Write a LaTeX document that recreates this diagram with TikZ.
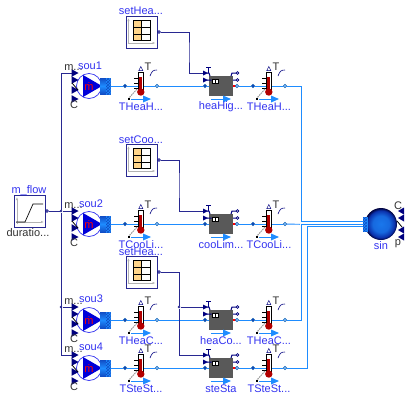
\documentclass[tikz,border=0pt]{standalone}
\usepackage{fontspec}
\setmainfont{Liberation Sans}
\usetikzlibrary{arrows.meta,backgrounds,patterns}
\definecolor{fluidblue}{RGB}{30,140,255}
\definecolor{wirenavy}{RGB}{40,40,145}
\definecolor{portnavy}{RGB}{0,0,127}
\definecolor{labelblue}{RGB}{50,50,240}
\definecolor{tableorange}{RGB}{255,213,138}
\pgfdeclareradialshading{sinkball}{\pgfpoint{0bp}{0bp}}{%
  color(0bp)=(fluidblue!85!portnavy); color(13bp)=(fluidblue!75!portnavy);
  color(21bp)=(fluidblue!35!portnavy); color(25bp)=(black!55!portnavy); color(50bp)=(black!55!portnavy)}

\begin{document}
\begin{tikzpicture}[x=1pt, y=-1pt, >=Latex, font=\fontsize{11}{13}\selectfont,
  fluid/.style={draw=fluidblue, line width=0.9pt},
  ctrl/.style={draw=wirenavy, line width=0.9pt},
  namelab/.style={text=labelblue, inner sep=0pt},
  taglab/.style={text=black!80, inner sep=0pt},
  fport/.style={circle, draw=fluidblue!70!black, fill=portnavy!55!fluidblue, inner sep=0pt, minimum size=3.4pt, line width=0.5pt},
  bport/.style={fport, fill=fluidblue!55!white},
  yport/.style={circle, draw=portnavy, fill=white, inner sep=0pt, minimum size=2.8pt, line width=0.6pt},
  dotj/.style={circle, fill=wirenavy, inner sep=0pt, minimum size=2.6pt},
  hatch/.style={draw=fluidblue, fill=fluidblue, postaction={pattern=crosshatch, pattern color=portnavy!45!fluidblue}},
  inport/.pic={\fill[portnavy] (-3.5,-3.8) -- (3.5,0) -- (-3.5,3.8) -- cycle;},
  sourcepic/.pic={
    \fill[white] (0,0) circle (12.5);
    \draw[labelblue, line width=0.7pt] (0,0) circle (12.5);
    \fill[blue!85!black] (-6,-11) -- (13,0) -- (-6,11) -- cycle;
    \shade[top color=portnavy!45!fluidblue, bottom color=portnavy!45!fluidblue, middle color=fluidblue] (11,-8) rectangle (18,8);
    \path[hatch] (17,-8) rectangle (21.5,8);
    \node[text=red, inner sep=0pt] (-mdot) at (0,0.5) {\.m};
    \coordinate (-b) at (21.5,0);
    \coordinate (-m) at (-17,-13);
    \pic at (-14,-13) {inport};
    \pic at (-14,-6) {inport};
    \pic at (-14,4) {inport};
    \pic at (-14,13) {inport};
    \draw[black, line width=0.8pt] (-17,-3) -- (-11,4);
    \node[taglab] (-mlab) at (-15.5,-18) {m...};
    \node[taglab] (-clab) at (-15,19) {C};
  },
  sensorpic/.pic={
    \draw[black, line width=0.7pt] (-7,-8) -- (-2,-8) (-7,-3) -- (-2,-3) (-7,2) -- (-2,2);
    \draw[black, fill=white, line width=0.6pt] (-2.4,6) -- (-2.4,-14) -- (2,-14) -- (2,6);
    \fill[red!70!black] (-1.8,-9) rectangle (1.4,6);
    \fill[red!70!black] (-0.2,6) circle (3.7);
    \draw[portnavy, line width=0.5pt] (-0.2,-19.5) -- (1.8,-15.5) -- (-2.2,-15.5) -- cycle;
    \node[taglab] (-tlab) at (7,-19) {T};
    \draw[portnavy, line width=0.6pt] (9,-10) .. controls (11,-15) and (12,-16) .. (16,-16);
    \draw[black!40, line width=1pt, dash pattern=on 1.6pt off 0.8pt] (-4,3) -- (-12,12);
    \fill[black] (-13.5,11.5) rectangle (-11,13.5);
    \draw[fluidblue, line width=0.7pt] (-10,13) -- (5,13);
    \fill[fluidblue] (2,9.5) -- (10,13) -- (2,16.5) -- cycle;
    \node[bport] (-b) at (16,0) {};
    \node[fport] (-a) at (-16,0) {};
  },
  checkpic/.pic={
    \fill[black!65] (-12,-10) rectangle (12,10);
    \fill[red] (12,-1) rectangle (15,1);
    \draw[black, fill=white, line width=0.5pt] (-9,-6.8) rectangle (-3,-3);
    \draw[black, line width=0.5pt] (-6,-6.8) -- (-6,-3);
    \draw[portnavy, line width=1pt] (-14,-13) -- (-12,-13) -- (-11,-10) (-14,-6) -- (-9.5,-6);
    \draw[portnavy, line width=1pt] (-15,-18.5) -- (-10,-18.5) (-12.5,-18.5) -- (-12.5,-13);
    \fill[portnavy] (-18,-15.5) -- (-13,-13) -- (-18,-10.5) -- cycle;
    \fill[portnavy] (-18,-8.5) -- (-13,-6) -- (-18,-3.5) -- cycle;
    \draw[portnavy, line width=1pt] (10,-10) -- (11,-13) -- (15,-13) (12,-6) -- (15,-6);
    \node[yport] (-y1) at (16.5,-13) {};
    \node[yport] (-y2) at (16.5,-6) {};
    \coordinate (-u) at (-18,-13);
    \draw[fluidblue, line width=0.7pt] (-10,13) -- (5,13);
    \fill[fluidblue] (2,9.5) -- (10,13) -- (2,16.5) -- cycle;
    \node[bport] (-b) at (16,0) {};
    \node[fport] (-a) at (-16,0) {};
  },
  tablepic/.pic={
    \draw[wirenavy, fill=white, line width=0.8pt] (-15.5,-16) rectangle (15.5,16);
    \draw[black!30, line width=0.8pt, -{Latex[length=3pt]}] (-13,11) -- (-13,-14);
    \draw[black!30, line width=0.8pt, -{Latex[length=3pt]}] (-14,11) -- (14,11);
    \fill[tableorange] (-8.5,-11.5) rectangle (0,8.5);
    \draw[black, line width=0.7pt] (-8.5,-11.5) rectangle (8.5,8.5);
    \draw[black, line width=0.7pt] (0,-11.5) -- (0,8.5) (-8.5,-5) -- (8.5,-5) (-8.5,2) -- (8.5,2);
    \node[yport] (-y) at (17.5,0) {};
  }]
\useasboundingbox (0,0) rectangle (410,400);
% ---------------- source and ramp
\draw[wirenavy, fill=white, line width=0.8pt] (14,195) rectangle (45,227);
\draw[black!30, line width=0.8pt, -{Latex[length=3pt]}] (17,224) -- (17,197);
\draw[black!30, line width=0.8pt, -{Latex[length=3pt]}] (16,222) -- (44,222);
\draw[black, line width=0.7pt] (16,222) -- (25,222) -- (33,204) -- (43,204);
\node[yport] (mflow) at (47,211) {};
\node[namelab] (mflowlab) at (29,190.5) {m\_flow};
\node[taglab] (mflowsub) at (28,232.5) {duratio...};
\node[dotj] (busTop) at (61,211) {};
\node[dotj] (busLow) at (61,307) {};
% ---------------- row 1
\pic (sou1) at (89,86) {sourcepic};
\pic (THeaHig1) at (141,86) {sensorpic};
\pic (heaHig) at (221,86) {checkpic};
\pic (THeaHig2) at (269,86) {sensorpic};
\pic (setHeaHig) at (141.5,32) {tablepic};
\node[namelab] (setHeaHiglab) at (141,11) {setHea...};
\node[namelab] (sou1lab) at (90,66) {sou1};
\node[namelab] (THeaHig1lab) at (141,107) {THeaH...};
\node[namelab] (heaHiglab) at (221,107) {heaHig...};
\node[namelab] (THeaHig2lab) at (269,107) {THeaH...};
% ---------------- row 2
\pic (sou2) at (89,224) {sourcepic};
\pic (TCooLim1) at (141,224) {sensorpic};
\pic (cooLim) at (221,224) {checkpic};
\pic (TCooLim2) at (269,224) {sensorpic};
\pic (setCooLim) at (141.5,160) {tablepic};
\node[namelab] (setCooLimlab) at (141,139.5) {setCoo...};
\node[namelab] (sou2lab) at (91,204) {sou2};
\node[namelab] (TCooLim1lab) at (141,245) {TCooLi...};
\node[namelab] (cooLimlab) at (221,245) {cooLim...};
\node[namelab] (TCooLim2lab) at (269,245) {TCooLi...};
% ---------------- row 3
\pic (sou3) at (89,320) {sourcepic};
\pic (THeaCoi1) at (141,320) {sensorpic};
\pic (heaCoi) at (221,320) {checkpic};
\pic (THeaCoi2) at (269,320) {sensorpic};
\pic (setHeaCoi) at (141.5,272) {tablepic};
\node[namelab] (setHeaCoilab) at (141,252) {setHea...};
\node[namelab] (sou3lab) at (91,299) {sou3};
\node[namelab] (THeaCoi1lab) at (141,341) {THeaC...};
\node[namelab] (heaCoilab) at (221,341) {heaCo...};
\node[namelab] (THeaCoi2lab) at (269,341) {THeaC...};
% ---------------- row 4
\pic (sou4) at (89,368) {sourcepic};
\pic (TSteSta1) at (141,368) {sensorpic};
\pic (steSta) at (221,368) {checkpic};
\pic (TSteSta2) at (269,368) {sensorpic};
\node[namelab] (sou4lab) at (91,347) {sou4};
\node[namelab] (TSteSta1lab) at (141,389) {TSteSt...};
\node[namelab] (steStalab) at (221,389) {steSta};
\node[namelab] (TSteSta2lab) at (269,389) {TSteSt...};
% ---------------- sink
\shade[shading=sinkball] (381,224) circle (16);
\path[hatch] (363,217) rectangle (367,231);
\foreach \yy in {211,218,230,237} {\fill[portnavy] (404,\yy-3.5) -- (398,\yy) -- (404,\yy+3.5) -- cycle;}
\draw[black, line width=0.8pt] (397,221) -- (402,227);
\node[namelab] (sinlab) at (381,245.5) {sin};
\node[taglab] (sinC) at (398,206) {C};
\node[taglab] (sinP) at (398,244) {p};
\coordinate (sinA) at (363,221.5);
\coordinate (sinB) at (363,224.3);
\coordinate (sinC2) at (363,226.7);
\coordinate (bendA) at (301,221.5);
\coordinate (endB) at (300,224.3);
\coordinate (bendC) at (301,224.3);
\coordinate (bendD) at (307,226.7);
\coordinate (busHea) at (189,52);
\coordinate (busCoo) at (179,185);
\node[dotj] (busHeaCoi) at (179,307) {};
% ---------------- connectors
\begin{scope}[on background layer]
\draw[fluid] (sou1-b) -- (THeaHig1-a); \draw[fluid] (THeaHig1-a) -- (THeaHig1-b); \draw[fluid] (THeaHig1-b) -- (heaHig-a);
\draw[fluid] (heaHig-a) -- (heaHig-b); \draw[fluid] (heaHig-b) -- (THeaHig2-a); \draw[fluid] (THeaHig2-a) -- (THeaHig2-b);
\draw[fluid] (THeaHig2-b) -| (bendA) -- (sinA);
\draw[fluid] (sou2-b) -- (TCooLim1-a); \draw[fluid] (TCooLim1-a) -- (TCooLim1-b); \draw[fluid] (TCooLim1-b) -- (cooLim-a);
\draw[fluid] (cooLim-a) -- (cooLim-b); \draw[fluid] (cooLim-b) -- (TCooLim2-a); \draw[fluid] (TCooLim2-a) -- (TCooLim2-b);
\draw[fluid] (TCooLim2-b) -- (endB);
\draw[fluid] (sou3-b) -- (THeaCoi1-a); \draw[fluid] (THeaCoi1-a) -- (THeaCoi1-b); \draw[fluid] (THeaCoi1-b) -- (heaCoi-a);
\draw[fluid] (heaCoi-a) -- (heaCoi-b); \draw[fluid] (heaCoi-b) -- (THeaCoi2-a); \draw[fluid] (THeaCoi2-a) -- (THeaCoi2-b);
\draw[fluid] (THeaCoi2-b) -| (bendC) -- (sinB);
\draw[fluid] (sou4-b) -- (TSteSta1-a); \draw[fluid] (TSteSta1-a) -- (TSteSta1-b); \draw[fluid] (TSteSta1-b) -- (steSta-a);
\draw[fluid] (steSta-a) -- (steSta-b); \draw[fluid] (steSta-b) -- (TSteSta2-a); \draw[fluid] (TSteSta2-a) -- (TSteSta2-b);
\draw[fluid] (TSteSta2-b) -| (bendD) -- (sinC2);
\draw[ctrl] (mflow) -- (busTop); \draw[ctrl] (busTop) -- (sou2-m);
\draw[ctrl] (busTop) |- (sou1-m); \draw[ctrl] (busTop) |- (sou4-m); \draw[ctrl] (busLow) -- (sou3-m);
\draw[ctrl] (setHeaHig-y) -| (busHea) |- (heaHig-u);
\draw[ctrl] (setCooLim-y) -| (busCoo) |- (cooLim-u);
\draw[ctrl] (setHeaCoi-y) -| (busHeaCoi); \draw[ctrl] (busHeaCoi) -- (heaCoi-u); \draw[ctrl] (busHeaCoi) |- (steSta-u);
\end{scope}
\end{tikzpicture}
\end{document}
